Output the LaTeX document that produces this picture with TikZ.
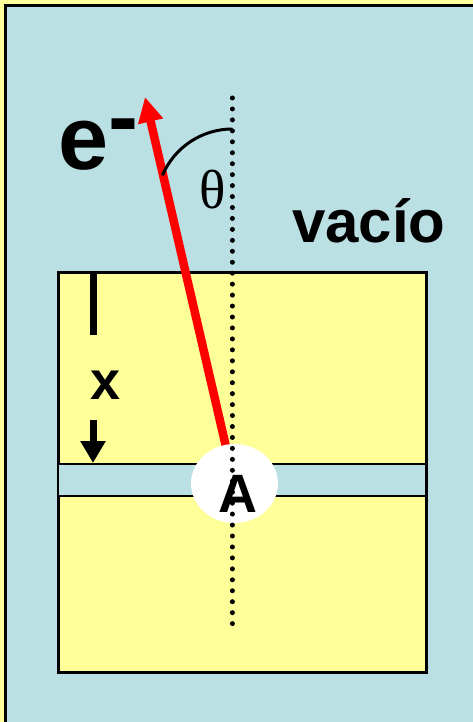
\documentclass[tikz,border=0pt]{standalone}
\usepackage{fontspec}
\setmainfont{Liberation Sans}
\newfontfamily\griega{Liberation Serif}
\usepackage{xcolor}
\usetikzlibrary{arrows.meta,shapes.geometric}
\definecolor{celeste}{RGB}{187,224,227}
\definecolor{amarillo}{RGB}{255,255,153}

\begin{document}
\begin{tikzpicture}[x=1pt,y=-1pt,
	bloque/.style={draw=black,fill=amarillo,line width=2.5pt,inner sep=0pt,anchor=north west},
	rotulo/.style={inner sep=0pt,anchor=base,font=\bfseries\fontsize{54}{54}\selectfont},
	flecha/.style={line width=7pt,-{Triangle[length=22pt,width=24pt]}}]
	\useasboundingbox (0,0) rectangle (473,722);
	\fill[amarillo] (0,0) rectangle (473,722);
	\draw[fill=celeste,line width=3pt] (5.5,5.5) rectangle (490,740);
	% muestra y capa
	\node[bloque,minimum width=368pt,minimum height=400pt] (muestra) at (57,271) {};
	\node[bloque,fill=celeste,line width=2pt,minimum width=368pt,minimum height=32pt] (capa) at (57,463) {};
	% electron emitido
	\coordinate (origen) at (234.5,483.5);
	\coordinate (salida) at (145,97);
	\draw[red,line width=8.5pt,-{Triangle[length=25pt,width=24pt]}] (origen) -- (salida);
	\node[ellipse,fill=white,minimum width=87pt,minimum height=79pt,inner sep=0pt] (hueco) at (origen) {};
	\node[rotulo] (letraA) at (237.5,512) {A};
	\coordinate (normal1) at (232.4,98);
	\coordinate (normal2) at (232.4,624);
	\draw[line width=5pt,line cap=round,dash pattern=on 0pt off 10.95pt] (normal1) -- (normal2);
	\draw[line width=3pt] (232.4,129) arc[start angle=-90,end angle=-157,radius=76];
	\node[inner sep=0pt,anchor=base,font=\griega\fontsize{55}{55}\selectfont] (theta) at (212.5,208) {θ};
	\node[rotulo,anchor=base west,font=\bfseries\fontsize{90}{90}\selectfont] (electron) at (58,170) {e\raisebox{22pt}{-}};
	\node[rotulo,anchor=base west,font=\bfseries\fontsize{60}{60}\selectfont] (vacio) at (292,242) {vacío};
	% profundidad x
	\coordinate (marca) at (93,420);
	\draw[line width=7pt] (muestra.north west -| marca) -- ++(0,64);
	\node[rotulo] (equis) at (105.5,399) {x};
	\draw[flecha] (marca) -- (marca |- capa.north);
\end{tikzpicture}
\end{document}
